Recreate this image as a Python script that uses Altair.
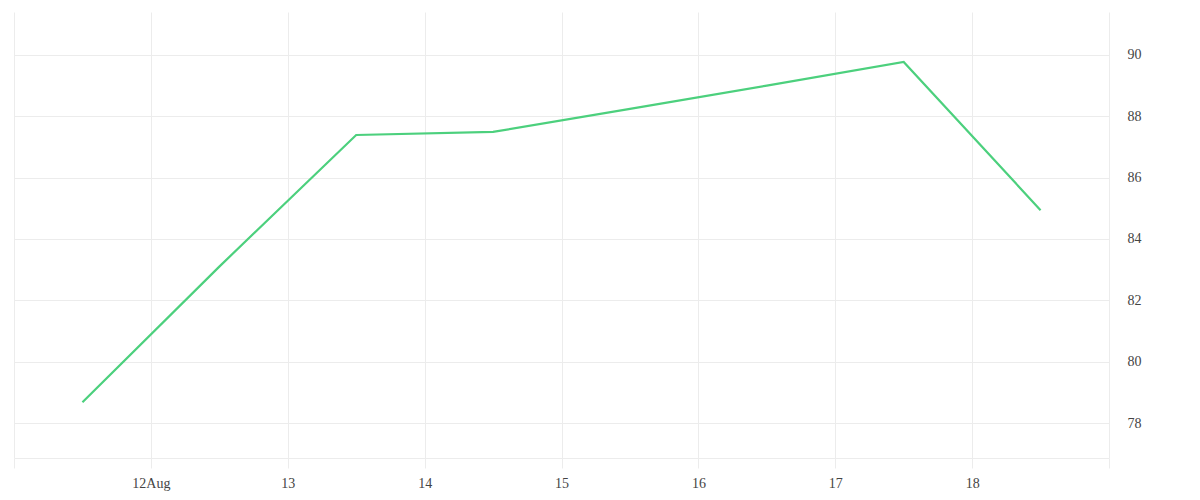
import altair as alt
import pandas as pd

dates = [
    "2023-08-11T12:00:00Z", "2023-08-12T12:00:00Z", "2023-08-13T12:00:00Z",
    "2023-08-14T12:00:00Z", "2023-08-15T12:00:00Z", "2023-08-16T12:00:00Z",
    "2023-08-17T12:00:00Z", "2023-08-18T12:00:00Z",
]
values = [78.68, 83.1, 87.39, 87.49, 88.24, 89.0, 89.77, 84.94]
y_ticks = [78, 80, 82, 84, 86, 88, 90]
x_tick_days = [11, 12, 13, 14, 15, 16, 17, 18, 19]

df = pd.DataFrame({"date": dates, "value": values})

FONT = "Liberation Serif"
GRID = "#ececec"

x_vals = [alt.DateTime(year=2023, month=8, date=d, utc=True) for d in x_tick_days]

label_expr = (
    "utcFormat(datum.value, '%d') == '12' ? '12Aug' : "
    "((utcFormat(datum.value, '%d') == '11' || utcFormat(datum.value, '%d') == '19') ? '' : "
    "utcFormat(datum.value, '%d'))"
)

chart = alt.Chart(df).mark_line(color="#4cd07d", strokeWidth=2.2).encode(
    x=alt.X(
        "date:T",
        scale=alt.Scale(
            type="utc",
            domain=[
                alt.DateTime(year=2023, month=8, date=11, utc=True),
                alt.DateTime(year=2023, month=8, date=19, utc=True),
            ],
        ),
        axis=alt.Axis(
            title=None,
            values=x_vals,
            labelExpr=label_expr,
            grid=True,
            gridColor=GRID,
            domain=True,
            domainColor=GRID,
            ticks=True,
            tickColor=GRID,
            tickSize=10,
            labelPadding=8,
            labelFont=FONT,
            labelFontSize=14,
            labelColor="#444444",
            labelFlush=False,
            labelOverlap=False,
        ),
    ),
    y=alt.Y(
        "value:Q",
        scale=alt.Scale(domain=[76.86, 91.4], nice=False, zero=False),
        axis=alt.Axis(
            title=None,
            orient="right",
            values=y_ticks,
            grid=True,
            gridColor=GRID,
            domain=False,
            ticks=False,
            labelPadding=18,
            labelFont=FONT,
            labelFontSize=14,
            labelColor="#444444",
        ),
    ),
).properties(
    width=1095,
    height=446,
    padding={"left": 5, "top": 4, "right": 5, "bottom": 5},
).configure_view(stroke=None)

chart.save("out.html", embed_options={"renderer": "svg", "actions": False})
